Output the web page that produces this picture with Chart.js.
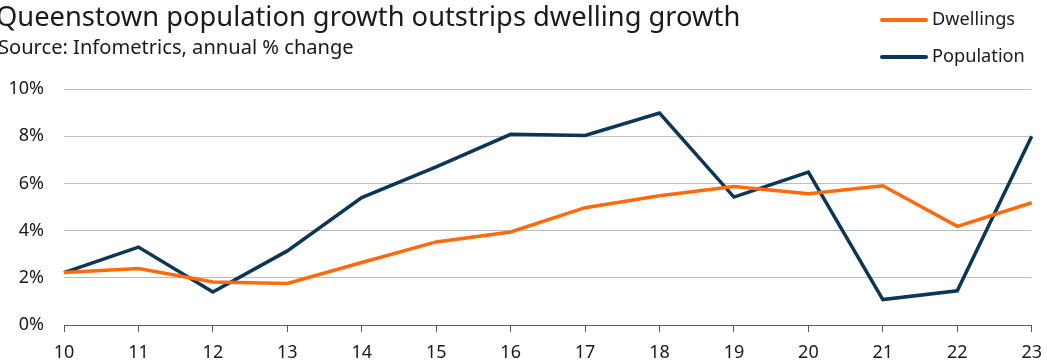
<!DOCTYPE html>
<html lang="en">
<head>
  <meta charset="UTF-8">
  <title>Queenstown population growth outstrips dwelling growth</title>
  <script src="https://cdn.jsdelivr.net/npm/chart.js"></script>
  <style>
    body {
      margin: 0;
      padding: 0;
      background: #fff;
      font-family: 'Noto Sans', 'Open Sans', sans-serif;
      color: #1a1a1a;
    }
    .wrap {
      position: relative;
      width: 1047px;
      height: 364px;
      overflow: hidden;
    }
    .title {
      position: absolute;
      left: -4px;
      top: -3px;
      font-size: 27.3px;
      white-space: nowrap;
    }
    .subtitle {
      position: absolute;
      left: -2px;
      top: 33px;
      font-size: 20.1px;
      white-space: nowrap;
    }
    .legend {
      position: absolute;
      left: 880px;
      top: 0;
    }
    .legend div {
      position: absolute;
      white-space: nowrap;
      font-size: 18.2px;
      line-height: 22px;
    }
    .legend span {
      display: inline-block;
      width: 48px;
      height: 4px;
      vertical-align: middle;
      margin-right: 4px;
      border-radius: 2px;
    }
    canvas {
      position: absolute;
      left: 0;
      top: 0;
    }
  </style>
</head>
<body>
  <div class="wrap">
    <!-- канвас чуть шире окна: Chart.js сам резервирует место справа под подпись "23" -->
    <canvas id="chart" width="1052" height="364"></canvas>
    <div class="title">Queenstown population growth outstrips dwelling growth</div>
    <div class="subtitle">Source: Infometrics, annual % change</div>
    <div class="legend" id="legend"></div>
  </div>

  <script>
    // Годы (последние две цифры)
    const years = ['10','11','12','13','14','15','16','17','18','19','20','21','22','23'];

    // Ряды, % изменения за год
    const dwellings  = [2.22, 2.39, 1.82, 1.76, 2.65, 3.52, 3.94, 4.97, 5.48, 5.87, 5.56, 5.90, 4.18, 5.18];
    const population = [2.22, 3.30, 1.40, 3.14, 5.40, 6.70, 8.08, 8.03, 8.98, 5.42, 6.48, 1.08, 1.45, 8.00];

    const seriesNames  = ['Dwellings', 'Population'];
    const seriesColors = ['#ff6a0d', '#0b3656'];

    // Легенда справа сверху
    const legend = document.getElementById('legend');
    seriesNames.forEach((name, i) => {
      legend.insertAdjacentHTML('beforeend',
        `<div style="top:${7 + i * 37}px"><span style="background:${seriesColors[i]}"></span>${name}</div>`);
    });

    new Chart(document.getElementById('chart'), {
      type: 'line',
      data: {
        labels: years,
        datasets: [
          { label: seriesNames[0], data: dwellings,  borderColor: seriesColors[0] },
          { label: seriesNames[1], data: population, borderColor: seriesColors[1] }
        ]
      },
      options: {
        responsive: false,
        animation: false,
        layout: { padding: { top: 89, right: 13, left: 0, bottom: 0 } },
        elements: {
          line: { borderWidth: 3.5, tension: 0, borderJoinStyle: 'miter' },
          point: { radius: 0 }
        },
        plugins: {
          legend: { display: false },
          tooltip: { enabled: false }
        },
        scales: {
          x: {
            offset: false,
            grid: {
              drawOnChartArea: false,
              drawTicks: true,
              tickLength: 7,
              color: '#595959'
            },
            border: { color: '#595959', width: 1 },
            ticks: {
              color: '#1a1a1a',
              font: { family: 'Noto Sans', size: 18 },
              padding: 10,
              maxRotation: 0,
              autoSkip: false
            },
            afterFit: s => { s.height = 39; }
          },
          y: {
            min: 0,
            max: 10,
            grid: { color: '#bdbdbd', drawTicks: false, lineWidth: 1 },
            border: { display: false },
            ticks: {
              stepSize: 2,
              color: '#1a1a1a',
              font: { family: 'Noto Sans', size: 18 },
              padding: 20,
              callback: v => v + '%'
            },
            afterFit: s => { s.width = 64; }
          }
        }
      }
    });
  </script>
</body>
</html>
